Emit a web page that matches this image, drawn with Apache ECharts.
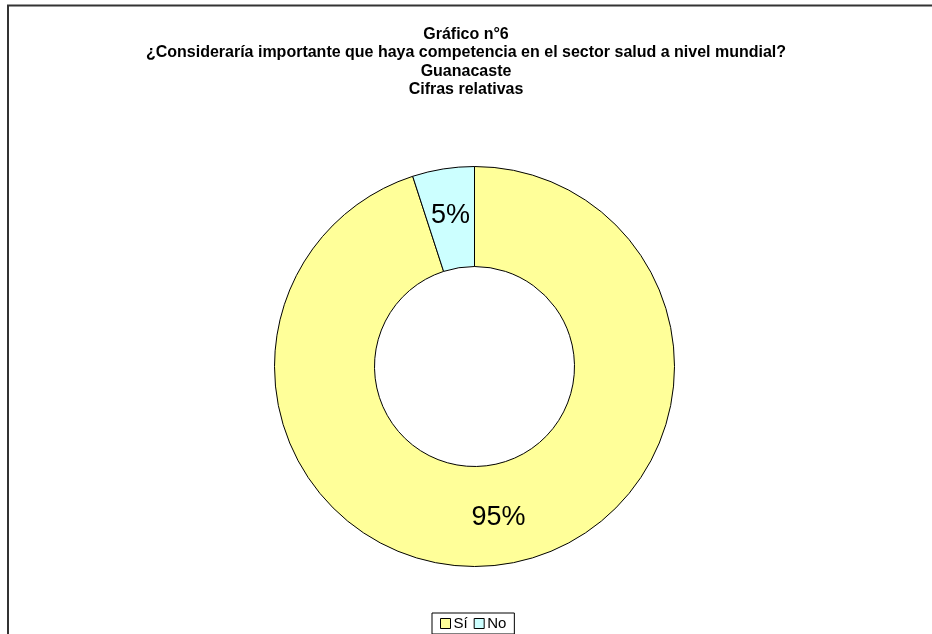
<!DOCTYPE html>
<html>
<head>
<meta charset="utf-8">
<script src="https://cdn.jsdelivr.net/npm/echarts@6/dist/echarts.min.js"></script>
<style>
  html, body { margin: 0; padding: 0; background: #fff; }
  #chart { width: 932px; height: 634px; }
</style>
</head>
<body>
<div id="chart"></div>
<script>
// Respuestas (porcentaje) — Guanacaste
const categories = ['Sí', 'No'];
const values = [95, 5];
const sliceColors = ['#FFFF99', '#CCFFFF'];

const titleLines = [
  'Gráfico n°6',
  '¿Consideraría importante que haya competencia en el sector salud a nivel mundial?',
  'Guanacaste',
  'Cifras relativas'
];

const chart = echarts.init(document.getElementById('chart'), null, { renderer: 'canvas' });

const FONT = 'Arial, "Liberation Sans", sans-serif';

chart.setOption({
  backgroundColor: '#ffffff',
  animation: false,
  title: {
    text: titleLines.join('\n'),
    left: 'center',
    top: 20,
    textStyle: {
      fontFamily: FONT,
      fontWeight: 'bold',
      fontSize: 16,
      lineHeight: 18.5,
      color: '#000'
    }
  },
  graphic: [{
    type: 'rect',
    shape: { x: 8, y: 5.5, width: 1000, height: 1000 },
    style: { fill: 'none', stroke: '#333', lineWidth: 2 },
    silent: true,
    z: 100
  }],
  legend: {
    data: categories,
    left: 432,
    bottom: 0,
    orient: 'horizontal',
    icon: 'rect',
    itemWidth: 10,
    itemHeight: 10,
    itemGap: 6,
    padding: [3, 8, 3, 8],
    borderColor: '#000',
    borderWidth: 1,
    backgroundColor: '#fff',
    itemStyle: { borderColor: '#000', borderWidth: 1 },
    textStyle: { fontFamily: FONT, fontSize: 15, color: '#000', padding: [0, 0, 0, -2] }
  },
  series: [{
    type: 'pie',
    center: [474.5, 366.5],
    radius: [100, 200],
    startAngle: 90,
    clockwise: true,
    avoidLabelOverlap: false,
    silent: true,
    itemStyle: { borderColor: '#000', borderWidth: 1 },
    label: {
      show: true,
      position: 'inside',
      formatter: p => p.value + '%',
      fontFamily: FONT,
      fontSize: 27,
      color: '#000'
    },
    labelLine: { show: false },
    data: categories.map((c, i) => ({
      name: c,
      value: values[i],
      itemStyle: { color: sliceColors[i] }
    }))
  }]
});
</script>
</body>
</html>
